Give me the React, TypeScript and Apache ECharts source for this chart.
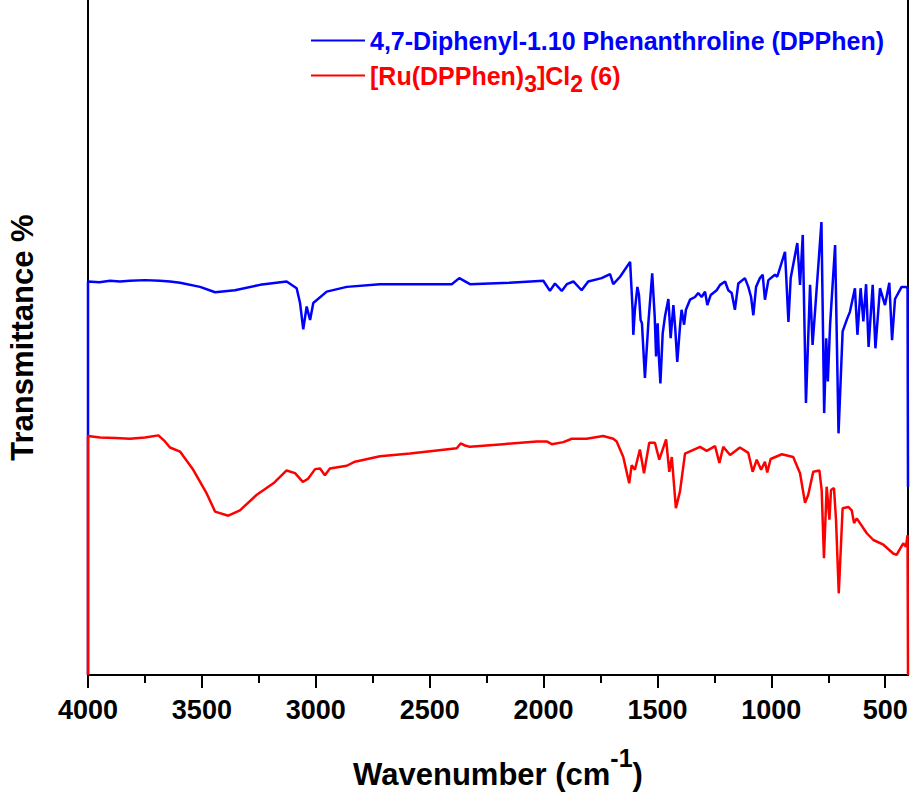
import React, { useEffect, useRef } from "react";
import * as echarts from "echarts";

const FONT = "'Liberation Sans', Arial, sans-serif";
const BLUE = "#0000ff";
const RED = "#ff0000";

const seriesNames = [
  "4,7-Diphenyl-1.10 Phenanthroline (DPPhen)",
  "[Ru(DPPhen)3]Cl2 (6)",
];

const majorTicks = [4000, 3500, 3000, 2500, 2000, 1500, 1000, 500];
const minorTicks = [3750, 3250, 2750, 2250, 1750, 1250, 750];

// [wavenumber cm-1, transmittance %]
const dpphenSpectrum: [number, number][] = [
  [4000, 0], [4000, 58.3], [3950, 58.2], [3903, 58.4], [3860, 58.3], [3816, 58.4], [3750, 58.5],
  [3684, 58.4], [3640, 58.3], [3596, 58.1],
  [3508, 57.5], [3442, 56.7], [3355, 57.0], [3245, 57.8], [3128, 58.3], [3084, 57.3],
  [3069, 55.1], [3055, 51.2], [3040, 54.6], [3025, 52.6], [3011, 55.1], [2952, 56.8],
  [2864, 57.5], [2718, 57.9], [2403, 57.9], [2370, 58.8], [2323, 57.9], [2150, 58.1],
  [2001, 58.4], [1972, 56.9], [1950, 58.0], [1920, 56.9], [1898, 57.9], [1869, 58.3],
  [1833, 57.0], [1804, 58.3], [1745, 58.8], [1708, 59.4], [1694, 57.9], [1664, 59.0],
  [1620, 61.2], [1609, 54.1], [1606, 50.4], [1599, 54.1], [1588, 57.5], [1581, 56.3],
  [1574, 52.6], [1568, 52.1], [1555, 44.0], [1540, 52.1], [1523, 59.5], [1512, 53.1],
  [1506, 47.2], [1499, 52.1], [1493, 46.7], [1487, 43.2], [1477, 50.6], [1467, 53.1],
  [1452, 55.7], [1442, 49.9], [1430, 54.8], [1422, 51.4], [1413, 46.4], [1401, 51.6],
  [1394, 54.1], [1383, 51.9], [1375, 54.1], [1357, 55.6], [1335, 56.0], [1321, 56.6],
  [1306, 56.0], [1291, 56.8], [1281, 54.8], [1266, 56.3], [1240, 57.0], [1225, 57.8],
  [1203, 58.3], [1189, 57.0], [1174, 56.6], [1160, 54.1], [1145, 58.0], [1116, 58.8],
  [1101, 57.5], [1089, 56.0], [1079, 53.3], [1067, 57.5], [1050, 58.8], [1038, 59.3],
  [1028, 55.6], [1013, 58.5], [984, 59.3], [974, 59.0], [940, 62.7], [925, 52.3],
  [915, 58.8], [886, 64.0], [874, 57.8], [862, 65.2], [848, 40.3], [830, 57.8],
  [819, 48.9], [807, 54.4], [780, 67.1], [768, 38.8], [759, 49.9], [752, 43.5],
  [742, 51.9], [720, 63.7], [705, 35.8], [687, 50.9], [667, 52.8], [655, 53.8],
  [633, 57.3], [622, 50.4], [608, 57.3], [596, 52.4], [584, 57.9], [573, 48.6],
  [555, 57.8], [543, 48.4], [523, 57.3], [501, 54.8], [482, 58.1], [470, 49.6],
  [457, 55.7], [428, 57.5], [409, 57.5], [402, 57.3], [400, 27.9],
];

const ruComplexSpectrum: [number, number][] = [
  [4000, 0], [4000, 35.4], [3947, 35.2], [3880, 35.1], [3816, 35.0], [3750, 35.2], [3691, 35.5], [3662, 34.6],
  [3640, 33.7], [3596, 33.1], [3538, 30.4], [3479, 26.9], [3442, 24.2], [3384, 23.6],
  [3333, 24.4], [3259, 26.7], [3186, 28.4], [3128, 30.3], [3091, 29.9], [3057, 28.6],
  [3033, 29.1], [3003, 30.5], [2981, 30.6], [2960, 29.6], [2938, 30.6], [2864, 31.0],
  [2828, 31.6], [2718, 32.4], [2586, 32.8], [2381, 33.6], [2364, 34.3], [2345, 34.0],
  [2323, 33.8], [2177, 34.2], [2030, 34.6], [1986, 34.6], [1964, 34.2], [1913, 34.5],
  [1876, 35.0], [1811, 35.0], [1738, 35.4], [1694, 35.0], [1679, 34.6], [1650, 32.3],
  [1624, 28.4], [1613, 31.1], [1599, 30.4], [1577, 33.4], [1559, 29.9], [1536, 34.4],
  [1511, 34.4], [1492, 31.9], [1462, 34.9], [1448, 30.1], [1437, 32.3], [1419, 24.7],
  [1401, 27.2], [1379, 32.8], [1313, 33.8], [1284, 33.2], [1247, 33.9], [1228, 31.4],
  [1211, 33.8], [1181, 32.6], [1138, 33.7], [1101, 32.9], [1082, 30.1], [1064, 31.9],
  [1045, 30.4], [1028, 31.6], [1018, 30.0], [1003, 32.0], [954, 32.7], [904, 32.3],
  [874, 29.9], [852, 25.5], [838, 26.7], [816, 30.1], [789, 30.3], [779, 27.4],
  [769, 17.3], [757, 27.9], [745, 23.0], [738, 27.4], [725, 27.7], [716, 23.0],
  [704, 12.1], [687, 24.7], [662, 24.9], [647, 24.4], [637, 22.5], [625, 23.2],
  [581, 21.0], [552, 20.0], [508, 19.3], [465, 18.0], [450, 17.8], [421, 19.5],
  [409, 19.0], [402, 20.7], [400, 0],
];

export default function App() {
  const ref = useRef<HTMLDivElement>(null);

  useEffect(() => {
    if (!ref.current) return;
    const chart = echarts.init(ref.current, undefined, { renderer: "svg" });
    const axisLineStyle = { color: "#000", width: 2 };
    chart.setOption({
      animation: false,
      backgroundColor: "#fff",
      textStyle: { fontFamily: FONT },
      grid: {
        left: 88,
        right: 3,
        top: 0,
        bottom: 119,
        containLabel: false,
        outerBoundsMode: "none",
      },
      legend: {
        orient: "vertical",
        left: 306,
        top: 23,
        itemWidth: 54,
        itemHeight: 2,
        itemGap: 10,
        icon: "rect",
        selectedMode: false,
        data: [
          { name: seriesNames[0], textStyle: { color: BLUE } },
          { name: seriesNames[1], textStyle: { color: RED } },
        ],
        textStyle: {
          fontFamily: FONT,
          fontSize: 25,
          fontWeight: "bold",
          rich: {
            m: { fontFamily: FONT, fontSize: 25, fontWeight: "bold" },
            s: { fontFamily: FONT, fontSize: 23, fontWeight: "bold", padding: [16, 0, 0, 0] },
          },
        },
        formatter: (name: string) =>
          name === seriesNames[1]
            ? "{m|[Ru(DPPhen)}{s|3}{m|]Cl}{s|2}{m| (6)}"
            : "{m|" + name + "}",
      },
      xAxis: [
        {
          type: "value",
          min: 400,
          max: 4000,
          inverse: true,
          position: "bottom",
          axisLine: { show: true, onZero: false, lineStyle: axisLineStyle },
          axisTick: {
            show: true,
            inside: false,
            length: 13,
            customValues: majorTicks,
            lineStyle: axisLineStyle,
          },
          axisLabel: {
            customValues: majorTicks,
            formatter: (v: number) => String(v),
            fontFamily: FONT,
            fontSize: 27,
            fontWeight: "bold",
            color: "#000",
            margin: 21,
          },
          splitLine: { show: false },
          name: "{a|Wavenumber (cm}{b|-1}{a|)}",
          nameLocation: "middle",
          nameGap: 75,
          nameTextStyle: {
            rich: {
              a: {
                fontFamily: FONT,
                fontSize: 31,
                fontWeight: "bold",
                color: "#000",
                lineHeight: 32,
                padding: [16, 0, 0, 0],
              },
              b: {
                fontFamily: FONT,
                fontSize: 25,
                fontWeight: "bold",
                color: "#000",
                lineHeight: 26,
                padding: [0, 0, 16, 0],
              },
            },
          },
        },
        {
          type: "value",
          min: 400,
          max: 4000,
          inverse: true,
          position: "bottom",
          axisLine: { show: false },
          axisTick: {
            show: true,
            inside: false,
            length: 8,
            customValues: minorTicks,
            lineStyle: axisLineStyle,
          },
          axisLabel: { show: false },
          splitLine: { show: false },
        },
      ],
      yAxis: [
        {
          type: "value",
          min: 0,
          max: 100,
          position: "left",
          axisLine: { show: true, onZero: false, lineStyle: axisLineStyle },
          axisTick: { show: false },
          axisLabel: { show: false },
          splitLine: { show: false },
          name: "Transmittance %",
          nameLocation: "middle",
          nameGap: 50,
          nameTextStyle: {
            fontFamily: FONT,
            fontSize: 31,
            fontWeight: "bold",
            color: "#000",
          },
        },
        {
          type: "value",
          min: 0,
          max: 100,
          position: "right",
          axisLine: { show: true, onZero: false, lineStyle: axisLineStyle },
          axisTick: { show: false },
          axisLabel: { show: false },
          splitLine: { show: false },
        },
      ],
      series: [
        {
          name: seriesNames[0],
          type: "line",
          xAxisIndex: 0,
          yAxisIndex: 0,
          data: dpphenSpectrum,
          showSymbol: false,
          symbol: "none",
          color: BLUE,
          lineStyle: { color: BLUE, width: 2.5 },
          z: 3,
        },
        {
          name: seriesNames[1],
          type: "line",
          xAxisIndex: 0,
          yAxisIndex: 0,
          data: ruComplexSpectrum,
          showSymbol: false,
          symbol: "none",
          color: RED,
          lineStyle: { color: RED, width: 2.5 },
          z: 4,
        },
      ],
    });
    return () => chart.dispose();
  }, []);

  return (
    <div
      ref={ref}
      style={{ position: "fixed", left: 0, top: 0, width: 911, height: 794, background: "#fff" }}
    />
  );
}
